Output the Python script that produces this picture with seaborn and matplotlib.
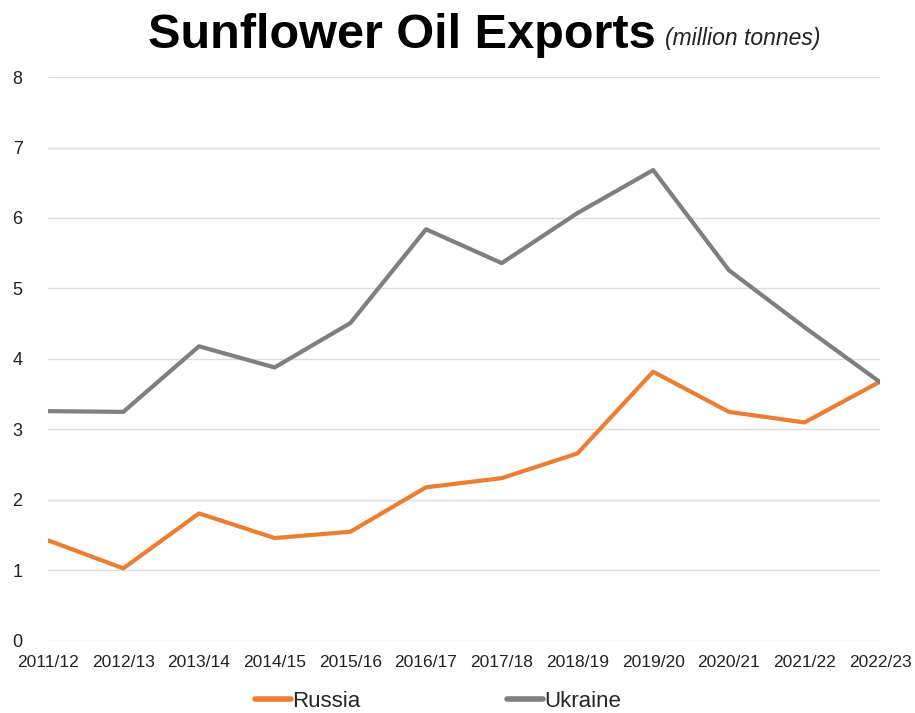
import matplotlib
matplotlib.use("Agg")
import matplotlib.pyplot as plt
import seaborn as sns
import pandas as pd

seasons = ["2011/12", "2012/13", "2013/14", "2014/15", "2015/16", "2016/17",
           "2017/18", "2018/19", "2019/20", "2020/21", "2021/22", "2022/23"]
russia = [1.43, 1.03, 1.81, 1.46, 1.55, 2.18, 2.31, 2.66, 3.82, 3.25, 3.10, 3.68]
ukraine = [3.26, 3.25, 4.18, 3.88, 4.51, 5.84, 5.36, 6.07, 6.68, 5.26, 4.45, 3.67]
countries = ["Russia", "Ukraine"]
colors = ["#ED7D31", "#7F7F7F"]

df = pd.DataFrame({
    "Season": seasons * 2,
    "Exports": russia + ukraine,
    "Country": ["Russia"] * len(seasons) + ["Ukraine"] * len(seasons),
})

sns.set_theme(style="white")
plt.rcParams["font.family"] = ["Liberation Sans", "DejaVu Sans"]

fig = plt.figure(figsize=(9.15, 7.13), dpi=100)
ax = fig.add_axes([0.052, 0.101, 0.910, 0.791])

sns.lineplot(data=df, x="Season", y="Exports", hue="Country",
             hue_order=countries, palette=colors, linewidth=3.0,
             sort=False, ax=ax, legend=False)

ax.set_xlim(0, len(seasons) - 1)
ax.set_ylim(0, 8)
ax.set_yticks(range(0, 9))
ax.grid(axis="y", color="#DDDDDD", linewidth=1.0)
ax.set_axisbelow(True)
for s in ax.spines.values():
    s.set_visible(False)
ax.set_xlabel("")
ax.set_ylabel("")
ax.tick_params(axis="x", labelsize=12.5, pad=10, length=0, colors="#222222")
ax.tick_params(axis="y", labelsize=13, pad=18, length=0, colors="#222222")

fig.text(0.162, 0.932, "Sunflower Oil Exports", fontsize=35, fontweight="bold",
         ha="left", va="baseline", color="black")
fig.text(0.727, 0.937, "(million tonnes)", fontsize=16.5, style="italic",
         ha="left", va="baseline", color="#222222")

handles = [plt.Line2D([], [], color=c, linewidth=4) for c in colors]
fig.legend(handles, countries, loc="center", bbox_to_anchor=(0.479, 0.0165),
           ncol=2, frameon=False, fontsize=16, handlelength=1.6,
           handletextpad=0.08, columnspacing=6.6, borderpad=0.0)

fig.savefig("out.png", dpi=100)
